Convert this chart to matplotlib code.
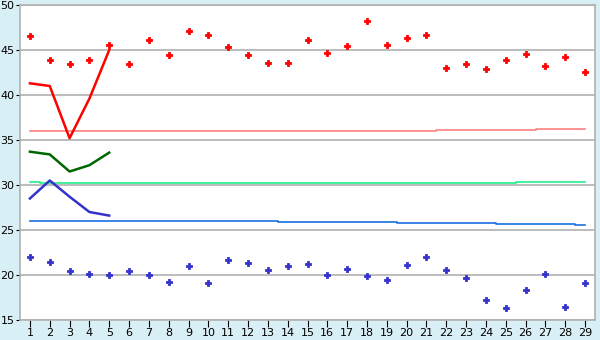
import matplotlib.pyplot as plt

# dias
dias = list(range(1, 30))

# pontos vermelhos (maximas)
maximas = [46.6, 43.9, 43.4, 43.9, 45.6, 43.5, 46.1, 44.4, 47.1, 46.7,
           45.3, 44.4, 43.6, 43.6, 46.1, 44.7, 45.5, 48.2, 45.6, 46.3,
           46.7, 43.0, 43.4, 42.9, 43.9, 44.6, 43.2, 44.2, 42.6]

# pontos azuis (minimas)
minimas = [22.0, 21.4, 20.4, 20.1, 20.0, 20.5, 20.0, 19.2, 21.0, 19.1,
           21.7, 21.3, 20.6, 21.0, 21.2, 20.0, 20.7, 19.9, 19.4, 21.1,
           22.0, 20.6, 19.7, 17.2, 16.3, 18.3, 20.1, 16.5, 19.1]

# linhas dos primeiros 5 dias
dias_curtos = [1, 2, 3, 4, 5]
linha_vermelha = [41.3, 41.0, 35.2, 39.6, 45.0]
linha_verde = [33.7, 33.4, 31.5, 32.2, 33.6]
linha_azul = [28.5, 30.5, 28.7, 27.0, 26.6]

# medias (linhas em degrau)
media_max = [35.96] * 21 + [36.07] * 5 + [36.19] * 3
media_verde = [30.3] + [30.19] * 24 + [30.3] * 4
media_min = [25.96] * 13 + [25.85] * 6 + [25.74] * 5 + [25.63] * 4 + [25.52]

fig = plt.figure(figsize=(6, 3.4), dpi=100, facecolor='#d9eff6')
ax = fig.add_axes([20 / 600, 20 / 340, 575 / 600, 315 / 340])
ax.set_facecolor('white')

ax.plot(dias, media_max, drawstyle='steps-mid', color='#ff8080', lw=1.2)
ax.plot(dias, media_verde, drawstyle='steps-mid', color='#22ee88', lw=1.2)
ax.plot(dias, media_min, drawstyle='steps-mid', color='#1a6ee0', lw=1.2)

ax.plot(dias_curtos, linha_vermelha, color='#ff0000', lw=1.8)
ax.plot(dias_curtos, linha_verde, color='#006600', lw=1.8)
ax.plot(dias_curtos, linha_azul, color='#3333cc', lw=1.8)

ax.plot(dias, maximas, 'P', color='#ff0000', ms=5, mew=0.6)
ax.plot(dias, minimas, 'P', color='#3333cc', ms=5, mew=0.6)

ax.set_xlim(0.5, 29.5)
ax.set_ylim(15, 50)
ax.set_xticks(dias)
ax.set_yticks(range(15, 51, 5))
ax.yaxis.grid(True, color='#b0b0b0', lw=1.2)
ax.set_axisbelow(True)
for s in ax.spines.values():
    s.set_color('#b0b0b0')
    s.set_linewidth(1.2)
ax.tick_params(axis='x', length=5, color='black', labelsize=8, pad=1)
ax.tick_params(axis='y', length=3, color='black', labelsize=8, pad=1)

plt.savefig('out.png', facecolor=fig.get_facecolor())
